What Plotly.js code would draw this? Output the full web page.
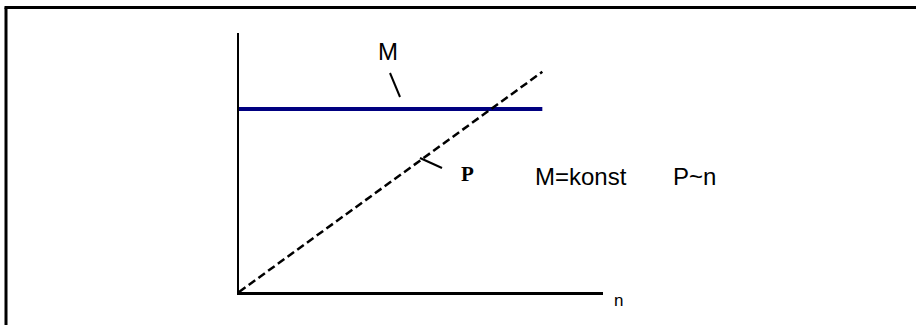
<!DOCTYPE html>
<html>
<head>
<meta charset="utf-8">
<script src="https://cdn.plot.ly/plotly-3.0.1.min.js"></script>
<style>html,body{margin:0;padding:0;background:#fff;}#chart{width:916px;height:325px;}</style>
</head>
<body>
<div id="chart"></div>
<script>
// Data (conceptual diagram: M constant, P proportional to n)
const n = [0, 10];
const M = [7.07, 7.07];
const P = [0, 8.5];
const labels = {M: "M", P: "P", relation1: "M=konst", relation2: "P~n", xTitle: "n"};

const W = 916, H = 325;
const L = 239, R = 603, T = 33, B = 292;
const xRange = [0, 12], yRange = [0, 10];
// pixel -> paper helpers for decorations
const px2paper = p => (p - L) / (R - L);
const py2paper = p => (B - p) / (B - T);

const traces = [
  {x: n, y: M, mode: 'lines', line: {color: '#000080', width: 4}, hoverinfo: 'skip'},
  {x: n, y: P, mode: 'lines', line: {color: '#000000', width: 2.5, dash: '8px,4px'}, hoverinfo: 'skip'}
];

const ann = (text, px, py, opts) => Object.assign({
  text: text, xref: 'paper', yref: 'paper', x: px2paper(px), y: py2paper(py), showarrow: false,
  xanchor: 'center', yanchor: 'middle', font: {family: 'Arial, Liberation Sans', size: 24, color: '#000'}
}, opts || {});

const layout = {
  width: W, height: H,
  margin: {l: L, r: W - R, t: T, b: H - B, pad: 0},
  paper_bgcolor: '#fff', plot_bgcolor: '#fff',
  showlegend: false,
  xaxis: {range: xRange, showgrid: false, zeroline: false, showticklabels: false, ticks: '',
          showline: true, linecolor: '#000', linewidth: 2.5, fixedrange: true},
  yaxis: {range: yRange, showgrid: false, zeroline: false, showticklabels: false, ticks: '',
          showline: true, linecolor: '#000', linewidth: 2.5, fixedrange: true},
  annotations: [
    ann(labels.M, 387.5, 52),
    ann('<b>' + labels.P + '</b>', 467, 174, {font: {family: 'Times New Roman, Liberation Serif', size: 21, color: '#000'}}),
    ann(labels.relation1, 533, 176, {xanchor: 'left'}),
    ann(labels.relation2, 670.5, 176, {xanchor: 'left'}),
    ann(labels.xTitle, 612, 300, {xanchor: 'left', font: {family: 'Arial, Liberation Sans', size: 17, color: '#000'}})
  ],
  shapes: [
    // leader for M
    {type: 'line', xref: 'paper', yref: 'paper', x0: px2paper(390), y0: py2paper(73), x1: px2paper(400), y1: py2paper(97), line: {color: '#000', width: 2}},
    // leader for P
    {type: 'line', xref: 'paper', yref: 'paper', x0: px2paper(420), y0: py2paper(158), x1: px2paper(442), y1: py2paper(168), line: {color: '#000', width: 2}},
    // outer frame (left and top edges)
    {type: 'line', xref: 'paper', yref: 'paper', x0: px2paper(6), y0: py2paper(7.5), x1: px2paper(6), y1: py2paper(330), line: {color: '#000', width: 3}},
    {type: 'line', xref: 'paper', yref: 'paper', x0: px2paper(4.5), y0: py2paper(7.5), x1: px2paper(920), y1: py2paper(7.5), line: {color: '#000', width: 3}}
  ]
};

Plotly.newPlot('chart', traces, layout, {staticPlot: true, displayModeBar: false});
</script>
</body>
</html>
